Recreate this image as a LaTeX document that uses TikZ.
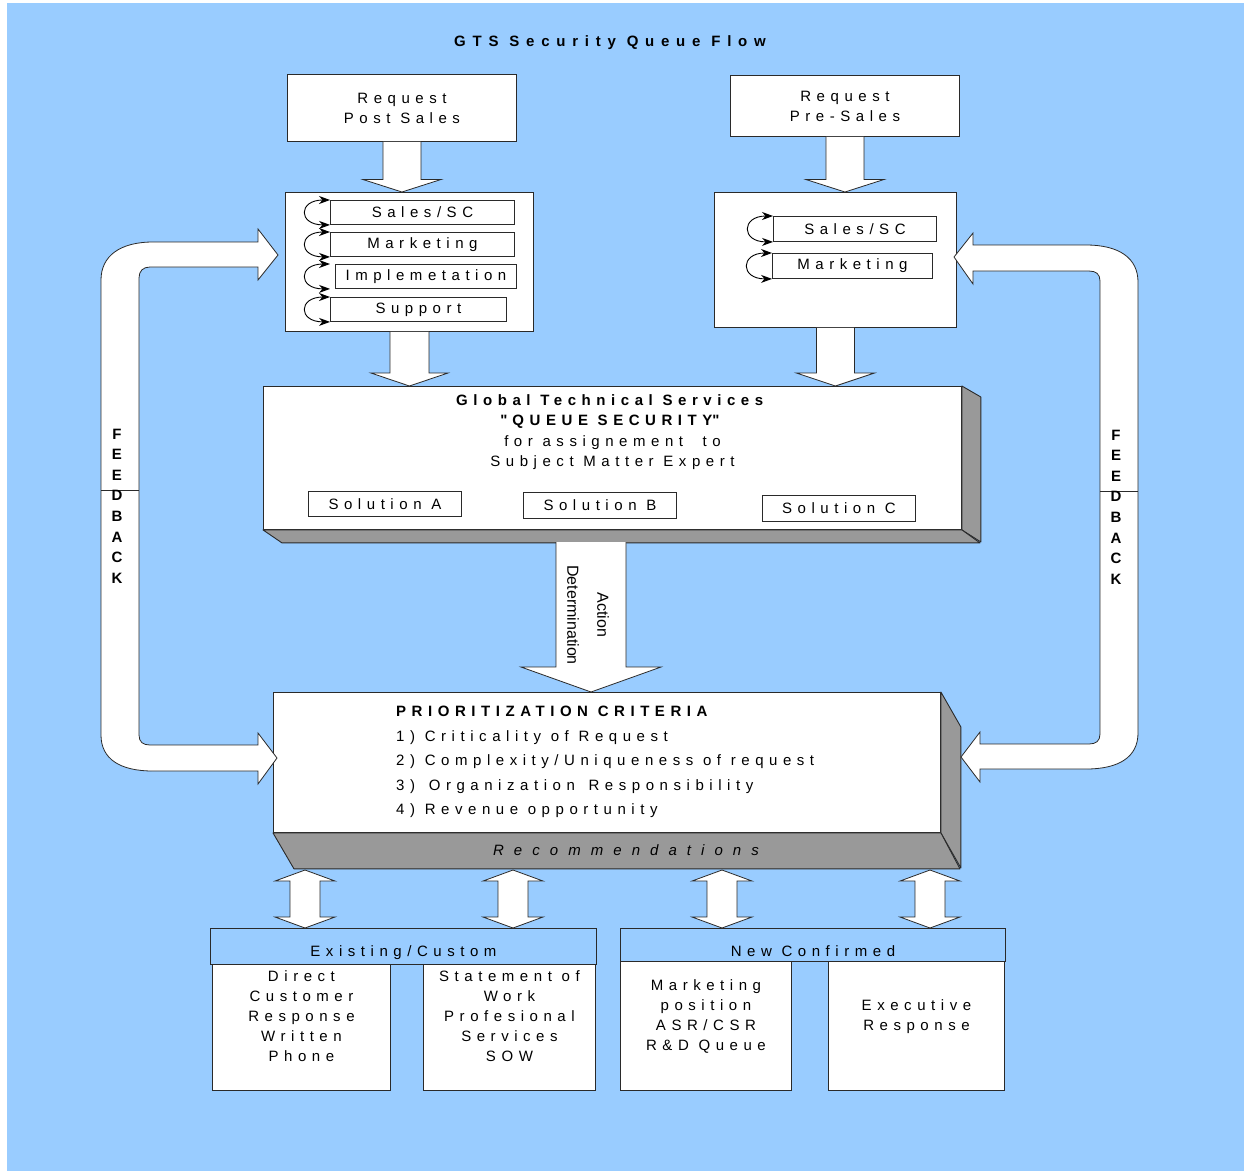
\documentclass[tikz,border=0pt]{standalone}
\usepackage{fontspec}
\setmainfont{Liberation Sans}[LetterSpace=37]
\newfontfamily\plainfont{Liberation Sans}
\newfontfamily\widefont{Liberation Sans}[LetterSpace=67]
\newfontfamily\titlefont{Liberation Sans}[LetterSpace=45]
\usetikzlibrary{calc,positioning,arrows.meta}
\definecolor{sky}{HTML}{99CCFF}
\definecolor{facegray}{HTML}{999999}
\definecolor{edge}{HTML}{2A2A2A}

\newcommand\straightquote{\XeTeXglyph\XeTeXcharglyph"22\relax\kern5pt}
\newcommand\downblock[5]{%
  \draw[block arrow] let \p1=(#1), \p2=(#2) in
    (\x1-#3,\y1) -- (\x1-#3,\y2+#5) -- (\x1-#4,\y2+#5) -- (\x1,\y2)
    -- (\x1+#4,\y2+#5) -- (\x1+#3,\y2+#5) -- (\x1+#3,\y1);}
\newcommand\bothblock[5]{%
  \draw[block arrow] let \p1=(#1), \p2=(#2) in
    (\x1,\y1) -- (\x1+#4,\y1-#5) -- (\x1+#3,\y1-#5) -- (\x1+#3,\y2+#5)
    -- (\x1+#4,\y2+#5) -- (\x1,\y2) -- (\x1-#4,\y2+#5) -- (\x1-#3,\y2+#5)
    -- (\x1-#3,\y1-#5) -- (\x1-#4,\y1-#5) -- cycle;}

\begin{document}
\begin{tikzpicture}[x=1pt, y=-1pt, font=\fontsize{15}{20}\selectfont,
    box/.style={draw=edge, line width=0.9pt, fill=white, anchor=north west, inner sep=0pt, align=center},
    role/.style={box, minimum height=24pt},
    side face/.style={draw=edge, line width=0.9pt, fill=facegray, line join=round},
    block arrow/.style={draw=edge, line width=0.8pt, fill=white, line join=miter},
    loop arrow/.style={{Stealth[length=11pt,width=8pt]}-{Stealth[length=11pt,width=8pt]}, line width=0.9pt},
    txt/.style={inner sep=0pt, align=center}]

    \useasboundingbox (0,0) rectangle (1244,1171);
    \fill[sky] (7,3) rectangle (1244,1171);

    \node[txt, font=\titlefont\bfseries\fontsize{15}{20}\selectfont] (title) at (610,43) {GTS Security Queue Flow};

    \node[box, minimum width=229pt, minimum height=67pt] (post) at (287,74) {Request\\Post Sales};
    \node[box, minimum width=229pt, minimum height=61pt] (pre) at (730,75) {Request\\Pre-Sales};

    \node[box, minimum width=248pt, minimum height=139pt] (prole) at (285,192) {};
    \node[role, minimum width=184pt] (ps1) at (330,200) {Sales/SC};
    \node[role, minimum width=184pt] (ps2) at (330,232) {Marketing};
    \node[role, minimum width=181pt] (ps3) at (335,264) {Implemetation};
    \node[role, minimum width=176pt] (ps4) at (330,297) {Support};

    \node[box, minimum width=242pt, minimum height=135pt] (qrole) at (714,192) {};
    \node[role, minimum width=163pt, minimum height=25pt] (qs1) at (773,216) {Sales/SC};
    \node[role, minimum width=160pt, minimum height=25pt] (qs2) at (772,253) {Marketing};

    \draw[loop arrow] (ps1.north west) .. controls +(-32,0) and +(-32,0) .. (ps1.south west);
    \draw[loop arrow] (ps2.north west) .. controls +(-32,0) and +(-32,0) .. (ps2.south west);
    \draw[loop arrow] (ps3.north west) ++(-5,0) .. controls +(-32,0) and +(-32,0) .. ($(ps3.south west)+(-5,0)$);
    \draw[loop arrow] (ps4.north west) .. controls +(-32,0) and +(-32,0) .. (ps4.south west);
    \draw[loop arrow] (qs1.north west) .. controls +(-32,0) and +(-32,0) .. (qs1.south west);
    \draw[loop arrow] (qs2.north west) .. controls +(-32,0) and +(-32,0) .. (qs2.south west);

    \node[box, minimum width=698pt, minimum height=143pt] (gts) at (263,386) {};
    \draw[side face] (gts.north east) -- ++(19,11) -- ++(0,145) -- (gts.south east) -- cycle;
    \draw[side face] (gts.south west) -- ++(19,13) -- ++(698,0) -- (gts.south east) -- cycle;
    \node[txt, below=8pt of gts.north, font=\fontsize{15}{20.6}\selectfont] (gtstext)
        {\textbf{Global Technical Services}\\\textbf{\straightquote QUEUE SECURITY\straightquote}\\for assignement~ to\\Subject Matter Expert};
    \node[role, minimum width=153pt, minimum height=25pt] (sola) at (308,491) {Solution A};
    \node[role, minimum width=153pt, minimum height=26pt] (solb) at (523,492) {Solution B};
    \node[role, minimum width=153pt, minimum height=26pt] (solc) at (762,495) {Solution C};

    \node[box, minimum width=667pt, minimum height=140pt] (prio) at (273,692) {};
    \draw[side face] (prio.north east) -- ++(20,35) -- ++(0,141) -- (prio.south east) -- cycle;
    \draw[side face] (prio.south west) -- ++(21,36) -- ++(666,0) -- (prio.south east) -- cycle;
    \node[txt, anchor=north west, align=left, font=\fontsize{15}{24.5}\selectfont] (crit) at (396,706)
        {\textbf{PRIORITIZATION CRITERIA}\\1) Criticality of Request\\2) Complexity/Uniqueness of request\\3)\hspace{4pt} Organization\hspace{4pt} Responsibility\\4) Revenue opportunity};
    \node[txt, font=\widefont\itshape\fontsize{15}{20}\selectfont] (rec) at (626,850) {Recommendations};

    \node[box, fill=sky, minimum width=386pt, minimum height=36pt] (exh) at (210,928) {};
    \node[txt, below=17pt of exh.north] (exhtext) {Existing/Custom};
    \node[box, minimum width=178pt, minimum height=126pt] (dir) at (212,964) {};
    \node[txt, below=6.5pt of dir.north] (dirtext) {Direct\\Customer\\Response\\Written\\Phone};
    \node[box, minimum width=172pt, minimum height=126pt] (sow) at (423,964) {};
    \node[txt, below=6.5pt of sow.north] (sowtext) {Statement of\\Work\\Profesional\\Services\\SOW};
    \node[box, fill=sky, minimum width=385pt, minimum height=33pt] (nch) at (620,928) {};
    \node[txt, below=17pt of nch.north] (nchtext) {New Confirmed};
    \node[box, minimum width=171pt, minimum height=129pt] (mkt) at (620,961) {};
    \node[txt, below=18pt of mkt.north] (mkttext) {Marketing\\position\\ASR/CSR\\R\&D Queue};
    \node[box, minimum width=176pt, minimum height=129pt] (exe) at (828,961) {};
    \node[txt, below=38pt of exe.north] (exetext) {Executive\\Response};

    \downblock{post.south}{post.south |- prole.north}{19pt}{39pt}{12.5pt}
    \downblock{pre.south}{pre.south |- qrole.north}{19pt}{39pt}{12.5pt}
    \downblock{prole.south}{prole.south |- gts.north}{19.5pt}{38.5pt}{13pt}
    \downblock{qrole.south}{qrole.south |- gts.north}{19pt}{39pt}{13pt}

    \coordinate (actbase) at (591,542);
    \downblock{actbase}{actbase |- prio.north}{35pt}{70pt}{25pt}
    \node[txt, rotate=-90, font=\plainfont\fontsize{16}{30}\selectfont] (act) at (588,615) {Action\\Determination};

    \coordinate (rec1) at (305,870);
    \coordinate (rec2) at (513,870);
    \coordinate (rec3) at (722,870);
    \coordinate (rec4) at (930,870);
    \bothblock{rec1}{rec1 |- exh.north}{15pt}{30pt}{11pt}
    \bothblock{rec2}{rec2 |- exh.north}{15pt}{30pt}{11pt}
    \bothblock{rec3}{rec3 |- nch.north}{15pt}{30pt}{11pt}
    \bothblock{rec4}{rec4 |- nch.north}{15pt}{30pt}{11pt}

    \draw[block arrow] (278,255) -- (258,229) -- (258,242) -- (153,242)
        .. controls (120,242) and (101,256) .. (101,280) -- (101,735)
        .. controls (101,759) and (120,771) .. (153,771) -- (258,771) -- (258,784) -- (277,758)
        -- (258,733) -- (258,745) -- (150,745) .. controls (143,745) and (139,742) .. (139,735)
        -- (139,278) .. controls (139,271) and (143,267) .. (150,267) -- (258,267) -- (258,280) -- cycle;
    \draw[draw=edge, line width=0.8pt] (101,490) -- (139,490);
    \node[txt, font=\plainfont\bfseries\fontsize{15}{20.57}\selectfont] (fbleft) at (117,506) {F\\E\\E\\D\\B\\A\\C\\K};

    \draw[block arrow] (954,257) -- (973,233) -- (973,245) -- (1086,245)
        .. controls (1119,245) and (1138,258) .. (1138,282) -- (1138,733)
        .. controls (1138,757) and (1119,769) .. (1086,769) -- (980,769) -- (980,782) -- (961,757)
        -- (980,732) -- (980,744) -- (1089,744) .. controls (1096,744) and (1100,741) .. (1100,734)
        -- (1100,281) .. controls (1100,274) and (1096,271) .. (1089,271) -- (973,271) -- (973,284) -- cycle;
    \draw[draw=edge, line width=0.8pt] (1100,491) -- (1138,491);
    \node[txt, font=\plainfont\bfseries\fontsize{15}{20.57}\selectfont] (fbright) at (1116,507) {F\\E\\E\\D\\B\\A\\C\\K};
\end{tikzpicture}
\end{document}
